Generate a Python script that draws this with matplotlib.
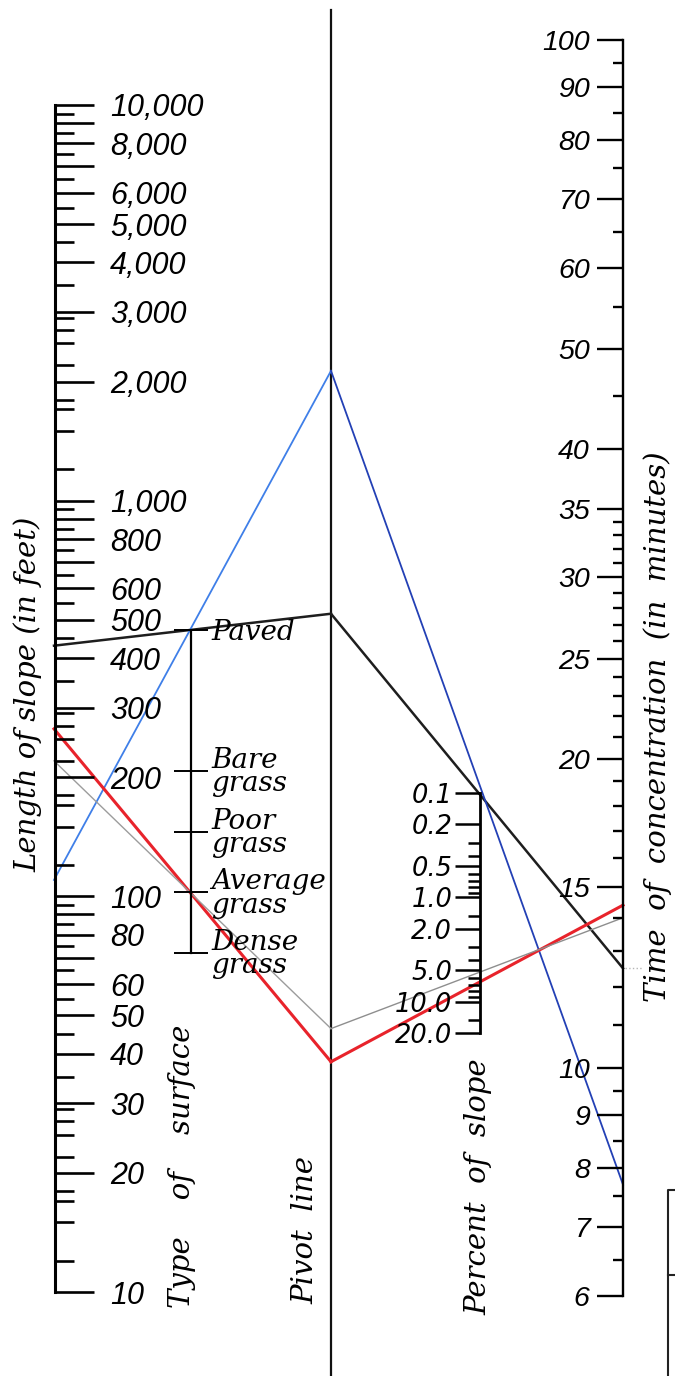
import matplotlib.pyplot as plt
from matplotlib.ticker import NullFormatter, NullLocator

W, H = 675, 1376

# worked examples
lengths_ft = [430, 110, 265, 220]
surfaces = ["Paved", "Paved", "Average grass", "Average grass"]
times_min = [12.5, 7.7, 14.4, 14.0]
seg1_colors = ["#1e1e1e", "#3f7fe8", "#e8232b", "#9c9c9c"]
seg2_colors = ["#1e1e1e", "#2340b5", "#e8232b", "#8e8e8e"]
line_widths = [1.8, 1.3, 2.2, 1.0]

# length of slope scale
length_labeled = [10, 20, 30, 40, 50, 60, 80, 100, 200, 300, 400, 500, 600, 800,
                  1000, 2000, 3000, 4000, 5000, 6000, 8000, 10000]
length_long = [70, 90, 700, 900, 7000, 9000]
length_minor_mant = [1.2, 1.5, 1.7, 1.8, 2.2, 2.5, 2.7, 2.9, 3.5, 4.5, 5.5, 6.5,
                     7.5, 8.5, 9.5]

# type of surface scale (retardance coefficient)
surface_keys = ["Paved", "Bare grass", "Poor grass", "Average grass", "Dense grass"]
surface_labels = ["Paved", "Bare\ngrass", "Poor\ngrass", "Average\ngrass", "Dense\ngrass"]
surface_n = [0.02, 0.10, 0.20, 0.40, 0.80]

# percent of slope scale
pct_major = [0.1, 0.2, 0.5, 1.0, 2.0, 5.0, 10.0, 20.0]
pct_labels = ["0.1", "0.2", "0.5", "1.0", "2.0", "5.0", "10.0", "20.0"]
pct_minor = [0.3, 0.4, 0.6, 0.7, 0.8, 0.9, 1.5, 3, 4, 6, 7, 8, 9, 15]

# time of concentration scale
time_major = [6, 7, 8, 9, 10, 15, 20, 25, 30, 35, 40, 50, 60, 70, 80, 90, 100]
time_minor = [6.5, 7.5, 8.5, 9.5, 11, 12, 13, 14, 16, 17, 18, 19, 21, 22, 23, 24,
              26, 27, 28, 29, 31, 32, 33, 34, 45, 55, 65, 75, 85, 95]

num_font = dict(fontfamily="Liberation Sans", fontstyle="italic")
txt_font = dict(family="DejaVu Serif", style="italic")

fig = plt.figure(figsize=(W / 100, H / 100), dpi=100)
base = fig.add_axes([0, 0, 1, 1])
base.set_xlim(0, W)
base.set_ylim(H, 0)
base.axis("off")


def scale_axes(x_px, top_px, bot_px, side):
    ax = fig.add_axes([x_px / W, 1 - bot_px / H, 0.5 / W, (bot_px - top_px) / H])
    ax.patch.set_visible(False)
    for s in ax.spines.values():
        s.set_visible(False)
    ax.spines[side].set_visible(True)
    ax.spines[side].set_linewidth(2.0)
    ax.set_xticks([])
    ax.set_yscale("log")
    ax.yaxis.set_ticks_position(side)
    ax.yaxis.set_minor_formatter(NullFormatter())
    return ax


# length of slope
ax_len = scale_axes(54, 105, 1292, "right")
ax_len.set_ylim(10, 10000)
maj = sorted(length_labeled + length_long)
ax_len.set_yticks(maj, labels=[f"{v:,}" if v in length_labeled else "" for v in maj],
                  **num_font)
ax_len.set_yticks([m * d for d in (10, 100, 1000) for m in length_minor_mant], minor=True)
ax_len.set_ylim(10, 10000)
ax_len.spines["right"].set_linewidth(2.2)
ax_len.tick_params(which="major", direction="out", length=28, width=1.9, pad=12,
                   labelsize=22)
ax_len.tick_params(which="minor", direction="out", length=14, width=1.9)

# type of surface
ax_s = scale_axes(190, 630, 953, "right")
ax_s.set_ylim(0.8, 0.02)
ax_s.set_yticks(surface_n, labels=surface_labels, fontfamily="DejaVu Serif",
                fontstyle="italic")
ax_s.yaxis.set_minor_locator(NullLocator())
ax_s.set_ylim(0.8, 0.02)
ax_s.spines["right"].set_linewidth(1.6)
ax_s.tick_params(direction="inout", length=24, width=1.4, pad=3, labelsize=20)
for lbl in ax_s.get_yticklabels():
    lbl.set_linespacing(0.82)

# percent of slope
ax_p = scale_axes(480, 793, 1033, "left")
ax_p.set_ylim(20, 0.1)
ax_p.set_yticks(pct_major, labels=pct_labels, fontfamily="DejaVu Sans",
                fontstyle="oblique")
ax_p.set_yticks(pct_minor, minor=True)
ax_p.set_ylim(20, 0.1)
ax_p.tick_params(which="major", direction="out", length=18, width=1.8, pad=2,
                 labelsize=18.5)
ax_p.tick_params(which="minor", direction="out", length=9, width=1.8)

# time of concentration
ax_t = scale_axes(623, 40, 1296, "left")
ax_t.set_ylim(6, 100)
ax_t.set_yticks(time_major, labels=[str(v) for v in time_major], **num_font)
ax_t.set_yticks(time_minor, minor=True)
ax_t.set_ylim(6, 100)
ax_t.spines["left"].set_linewidth(1.7)
ax_t.tick_params(which="major", direction="out", length=19, width=1.7, pad=5,
                 labelsize=20.5)
ax_t.tick_params(which="minor", direction="out", length=7, width=1.7)

# pivot line
x_piv = 331
base.plot([x_piv, x_piv], [10, H], color="#111111", lw=1.6)

# bottom right fragment of a neighbouring panel
base.plot([W, 668, 668], [1190, 1190, H], color="#222222", lw=1.5)
base.plot([668, W], [1275, 1275], color="#222222", lw=1.5)


def to_base(ax, value):
    disp = ax.transData.transform((0, value))
    return base.transData.inverted().transform(disp)


for L, s, t, c1, c2, lw in zip(lengths_ft, surfaces, times_min, seg1_colors,
                                seg2_colors, line_widths):
    pL = to_base(ax_len, L)
    pS = to_base(ax_s, surface_n[surface_keys.index(s)])
    pT = to_base(ax_t, t)
    y_piv = pL[1] + (pS[1] - pL[1]) * (x_piv - pL[0]) / (pS[0] - pL[0])
    base.plot([pL[0], x_piv], [pL[1], y_piv], color=c1, lw=lw, zorder=5)
    base.plot([x_piv, pT[0]], [y_piv, pT[1]], color=c2, lw=lw, zorder=5)

# faint dotted continuation at the first example's answer
pT0 = to_base(ax_t, times_min[0])
base.plot([pT0[0] + 2, pT0[0] + 20], [pT0[1], pT0[1]], ls=":", color="#b5b5b5", lw=1)

# axis titles
base.text(28, 694, "Length of slope (in feet)", rotation=90, ha="center",
          va="center", size=21, **txt_font)
base.text(182, 1166, "Type    of    surface", rotation=90, ha="center",
          va="center", size=21, **txt_font)
base.text(305, 1230, "Pivot  line", rotation=90, ha="center", va="center",
          size=21, **txt_font)
base.text(478, 1187, "Percent  of  slope", rotation=90, ha="center", va="center",
          size=21, **txt_font)
base.text(658, 727, "Time  of  concentration  (in  minutes)", rotation=90,
          ha="center", va="center", size=21, **txt_font)

fig.savefig("out.png", dpi=100)
